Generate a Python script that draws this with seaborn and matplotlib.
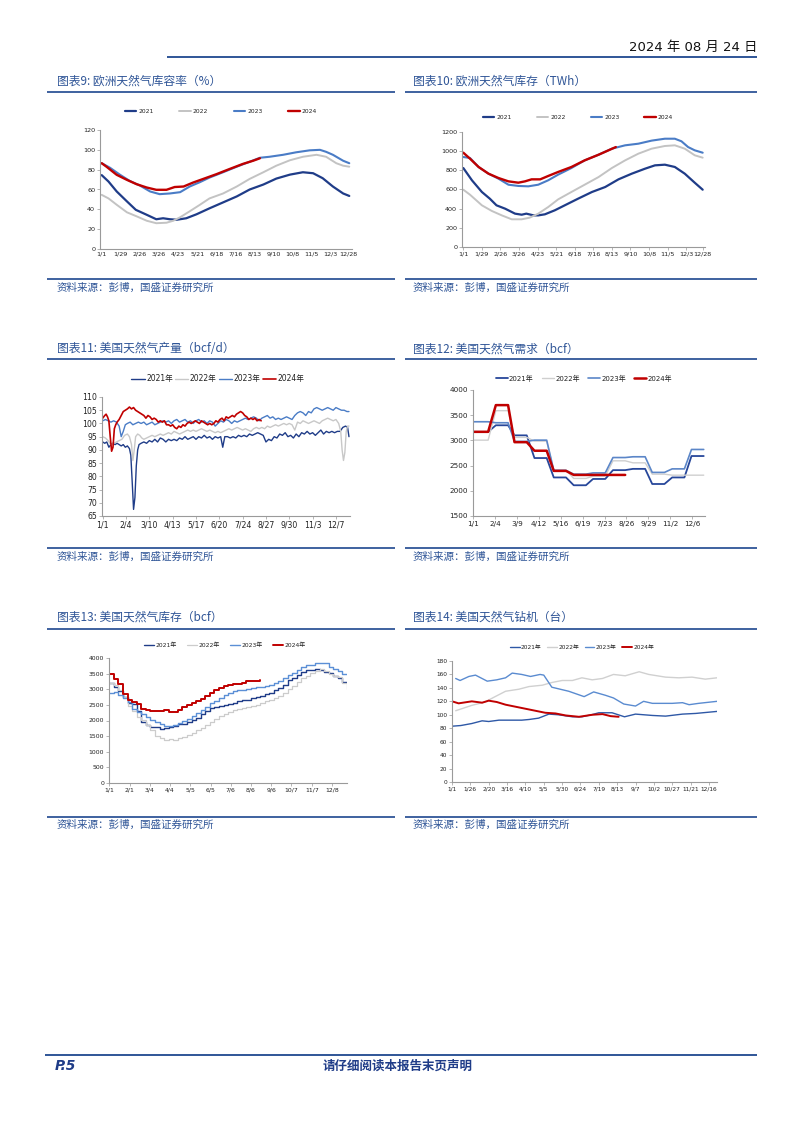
import pandas as pd
import matplotlib
matplotlib.use("Agg")
import matplotlib.pyplot as plt
from matplotlib.lines import Line2D
import seaborn as sns

# ---------------- text ----------------
YEARS = ["2021", "2022", "2023", "2024"]
YEARS_CN = ["2021年", "2022年", "2023年", "2024年"]
TITLES = ["图表9: 欧洲天然气库容率（%）", "图表10: 欧洲天然气库存（TWh）",
          "图表11: 美国天然气产量（bcf/d）", "图表12: 美国天然气需求（bcf）",
          "图表13: 美国天然气库存（bcf）", "图表14: 美国天然气钻机（台）"]
SOURCE = "资料来源：彭博，国盛证券研究所"
DATE_TEXT = "2024 年 08 月 24 日"
PAGE = "P.5"
FOOTER = "请仔细阅读本报告末页声明"

# ---------------- chart 9: EU storage fill (%) ----------------
EUP_XLAB = ["1/1", "1/29", "2/26", "3/26", "4/23", "5/21", "6/18", "7/16", "8/13",
            "9/10", "10/8", "11/5", "12/3", "12/28"]
EUP_YT = [0, 20, 40, 60, 80, 100, 120]
EUP21_D = [0, 10, 22, 37, 50, 66, 80, 90, 100, 110, 124, 139, 158, 178, 198, 217, 237, 256, 276, 295, 310, 324, 339, 354, 363]
EUP21_V = [74.5, 68, 58, 48, 39.5, 34.5, 30, 31, 30, 29.5, 31, 35, 41, 47, 53, 60, 65, 71, 75, 77.4, 76.4, 71.4, 63, 56, 53.5]
EUP22_D = [0, 10, 22, 37, 51, 66, 80, 95, 105, 115, 129, 144, 158, 178, 198, 217, 237, 256, 276, 295, 315, 329, 344, 354, 363]
EUP22_V = [54.6, 51, 44.6, 37, 33, 28.5, 26, 26.5, 28.5, 32, 38, 44.6, 51, 56, 63, 70.7, 77.4, 84, 89.5, 93, 95, 93, 86.5, 84, 83]
EUP23_D = [0, 12, 27, 41, 56, 71, 85, 100, 115, 129, 144, 158, 178, 198, 217, 232, 246, 266, 285, 305, 320, 329, 339, 354, 363]
EUP23_V = [86.5, 82, 74.8, 68.7, 64, 58, 55.3, 56, 57.3, 63, 67.4, 72, 77.4, 83, 88, 92, 93, 95, 97.5, 99.5, 100, 98, 95, 89, 86.5]
EUP24_D = [0, 7, 22, 37, 51, 66, 80, 95, 107, 120, 134, 149, 168, 188, 207, 222, 232]
EUP24_V = [86.5, 83, 74.8, 69.7, 65.4, 62, 59.7, 59.7, 62.5, 63, 67, 70.7, 75.4, 80.8, 85.8, 89, 91.5]

# ---------------- chart 10: EU storage (TWh) ----------------
EUT_YT = [0, 200, 400, 600, 800, 1000, 1200]
EUT21_D = [0, 13, 28, 40, 50, 63, 78, 88, 95, 106, 113, 123, 138, 153, 173, 194, 214, 234, 254, 274, 289, 304, 319, 334, 349, 361]
EUT21_V = [824, 696, 574, 504, 435, 400, 348, 337, 348, 330, 330, 341, 383, 435, 504, 574, 626, 706, 765, 817, 852, 859, 835, 765, 671, 598]
EUT22_D = [0, 10, 28, 43, 58, 73, 88, 100, 113, 128, 143, 163, 183, 204, 224, 244, 264, 284, 304, 319, 334, 349, 361]
EUT22_V = [598, 546, 435, 376, 330, 289, 289, 306, 348, 417, 497, 574, 650, 730, 824, 904, 974, 1026, 1054, 1061, 1026, 957, 932]
EUT23_D = [0, 10, 23, 38, 53, 68, 83, 98, 113, 128, 143, 163, 183, 204, 224, 244, 264, 284, 304, 319, 329, 339, 349, 361]
EUT23_V = [939, 929, 835, 765, 713, 650, 637, 633, 650, 696, 755, 824, 904, 963, 1026, 1061, 1078, 1110, 1130, 1130, 1103, 1043, 1009, 984]
EUT24_D = [0, 10, 23, 38, 53, 68, 83, 93, 103, 116, 128, 143, 163, 183, 204, 219, 230]
EUT24_V = [984, 922, 835, 765, 720, 685, 671, 685, 706, 706, 741, 783, 835, 904, 963, 1009, 1043]

# ---------------- chart 11: US production (bcf/d) ----------------
PRD_XLAB = ["1/1", "2/4", "3/10", "4/13", "5/17", "6/20", "7/24", "8/27", "9/30", "11/3", "12/7"]
PRD_YT = [65, 70, 75, 80, 85, 90, 95, 100, 105, 110]
PRD21_D = [0, 3, 6, 9, 12, 15, 18, 21, 24, 27, 30, 33, 36, 39, 41, 43, 45, 47, 49, 51, 53, 56, 60, 64, 68, 72, 76, 80,
           84, 88, 92, 96, 100, 104, 108, 112, 116, 120, 124, 128, 132, 136, 140, 144, 148, 152, 156, 160, 164, 168,
           172, 175, 178, 182, 186, 190, 194, 198, 202, 206, 210, 214, 218, 222, 226, 230, 234, 238, 242, 246, 250,
           254, 258, 262, 266, 270, 274, 278, 282, 286, 290, 294, 298, 302, 306, 310, 314, 318, 322, 326, 330, 334,
           338, 342, 346, 350, 354, 357, 359]
PRD21_V = [93, 92.5, 93, 91, 92, 92.5, 92, 92.5, 92, 91.5, 92, 91, 91.5, 90.5, 88, 78, 67.5, 72, 84, 90, 92, 92.5, 93,
           92.5, 93.5, 93, 94, 93, 94.5, 94, 93, 94, 93.5, 94, 93.5, 94.5, 94, 95, 94, 94.5, 95, 94, 95, 94.5, 95.5,
           94.5, 95, 94, 95, 94.5, 95, 91, 95, 95, 94.5, 95, 94.5, 95.5, 95, 95.5, 95, 96, 95.5, 96, 96.5, 96, 95.5,
           93, 94, 93.5, 95, 94.5, 96, 95.5, 96.5, 95, 95.5, 94.5, 96, 95, 96.5, 96, 97, 96, 96.5, 95.5, 96.5, 97.5,
           96, 97, 96.5, 97, 96.5, 97, 97, 98.5, 99, 98.5, 95]
PRD22_D = [0, 4, 8, 12, 16, 20, 24, 28, 32, 36, 39, 42, 44, 46, 48, 51, 54, 57, 60, 64, 68, 72, 76, 80, 84, 88, 92,
           96, 100, 104, 108, 112, 116, 120, 124, 128, 132, 136, 140, 144, 148, 152, 156, 160, 164, 168, 172, 176,
           180, 184, 188, 192, 196, 200, 204, 208, 212, 216, 220, 224, 228, 232, 236, 240, 244, 248, 252, 256, 260,
           264, 268, 272, 276, 280, 284, 288, 292, 296, 300, 304, 308, 312, 316, 320, 324, 328, 332, 336, 340, 344,
           347, 349, 351, 353, 355, 357, 359]
PRD22_V = [95, 94.5, 93.5, 92, 92.5, 93, 93.5, 94, 95.5, 96, 95, 92, 86, 90, 95, 96, 95.5, 94.5, 94, 94.5, 95, 95.5,
           95, 95.5, 96, 95.5, 96, 96.5, 96, 97, 96.5, 96, 96.5, 97, 97.5, 97, 97.5, 97, 97.5, 98, 97.5, 97, 97.5, 97,
           96.5, 97, 96.5, 97, 97.5, 98, 97.5, 98, 98.5, 98, 97.5, 98, 97.5, 97, 98, 98.5, 98, 98.5, 98, 99, 98.5, 99,
           99.5, 99, 99.5, 100, 99.5, 100, 99.5, 97.5, 100.5, 100, 101, 100.5, 100, 100.5, 101, 100.5, 100, 101,
           101.5, 102, 101.5, 101, 101.5, 100, 97, 90, 86, 89, 97, 99, 99]
PRD23_D = [0, 4, 8, 12, 16, 20, 24, 27, 30, 33, 36, 40, 44, 48, 52, 56, 60, 64, 68, 72, 76, 80, 84, 88, 92, 96, 100,
           104, 108, 112, 116, 120, 124, 128, 132, 136, 140, 144, 148, 152, 156, 160, 164, 168, 172, 176, 180, 184,
           188, 192, 196, 200, 204, 208, 212, 216, 220, 224, 228, 232, 236, 240, 244, 248, 252, 256, 260, 264, 268,
           272, 276, 280, 284, 288, 292, 296, 300, 304, 308, 312, 316, 320, 324, 328, 332, 336, 340, 344, 348, 352,
           356, 359]
PRD23_V = [101, 101.5, 101, 100.5, 101, 100.5, 99, 95, 97, 99.5, 100, 100.5, 99.5, 100, 100.5, 100, 100.5, 99.5,
           100, 100.5, 99.5, 100, 100.5, 101, 100.5, 101, 100, 101, 101.5, 100.5, 101, 101.5, 100.5, 101, 100, 101,
           101.5, 100.5, 101, 100, 101, 100.5, 99, 100, 101, 100.5, 101.5, 101, 100, 101, 100.5, 101, 101.5, 102,
           101.5, 102, 102.5, 102, 101, 102, 102.5, 103, 102, 102.5, 101.5, 102, 101.5, 102, 102.5, 102, 101.5, 103,
           104, 104.5, 104, 103, 104.5, 104, 105.5, 106, 105.5, 105, 105.5, 106, 105.5, 105, 106, 105.5, 105, 105,
           104.5, 104.5]
PRD24_D = [0, 3, 5, 7, 9, 11, 13, 15, 17, 19, 21, 24, 27, 30, 33, 36, 39, 42, 45, 48, 51, 54, 57, 60, 63, 66, 69,
           72, 75, 78, 81, 84, 87, 90, 93, 96, 99, 102, 105, 108, 111, 114, 117, 120, 123, 126, 129, 132, 135, 138,
           141, 144, 147, 150, 153, 156, 159, 162, 165, 168, 171, 174, 177, 180, 183, 186, 189, 192, 195, 198, 201,
           204, 207, 210, 213, 216, 219, 222, 225, 228, 231]
PRD24_V = [102, 103, 103.5, 102.5, 101, 95, 89.5, 91, 98, 99.5, 100.5, 101.5, 103, 104.5, 105, 105.5, 106.2, 105.5,
           106, 105, 104.5, 104, 103.5, 103, 102, 103, 102.5, 101.5, 102, 101.5, 100.5, 101, 100.5, 101, 99.5, 99.5,
           99, 99.5, 98.5, 98, 99, 98.5, 99.5, 99, 100, 100.5, 100, 100.5, 101, 100.5, 100, 101, 100.5, 100, 99.5,
           100, 99.5, 100, 101, 100.5, 101.5, 102, 101, 102.5, 102, 102.5, 103, 102.5, 103.5, 104, 104.5, 104, 103,
           102.5, 101.5, 102, 101.5, 102, 101, 101.5, 101]

# ---------------- chart 12: US demand (bcf), monthly ----------------
DEM_XLAB = ["1/1", "2/4", "3/9", "4/12", "5/16", "6/19", "7/23", "8/26", "9/29", "11/2", "12/6"]
DEM_YT = [1500, 2000, 2500, 3000, 3500, 4000]
MONTHS = ["1/1", "2/1", "3/1", "4/1", "5/1", "6/1", "7/1", "8/1", "9/1", "10/1", "11/1", "12/1"]
DEM21 = [3170, 3300, 3100, 2650, 2265, 2110, 2235, 2410, 2435, 2135, 2265, 2690]
DEM22 = [3005, 3590, 3060, 2985, 2410, 2245, 2290, 2595, 2555, 2330, 2310, 2310]
DEM23 = [3370, 3350, 2980, 3005, 2405, 2330, 2355, 2660, 2675, 2365, 2435, 2820]
DEM24 = [3170, 3700, 2965, 2795, 2395, 2315, 2315, 2315]

# ---------------- chart 13: US storage (bcf), weekly ----------------
STO_XLAB = ["1/1", "2/1", "3/4", "4/4", "5/5", "6/5", "7/6", "8/6", "9/6", "10/7", "11/7", "12/8"]
STO_YT = [0, 500, 1000, 1500, 2000, 2500, 3000, 3500, 4000]
STO21 = [3196, 3062, 2934, 2747, 2562, 2543, 2305, 1967, 1869, 1793, 1782, 1744, 1758, 1778, 1839, 1877, 1893, 1953,
         2024, 2096, 2215, 2313, 2411, 2427, 2468, 2501, 2517, 2572, 2618, 2654, 2667, 2714, 2760, 2789, 2841, 2893,
         2976, 3052, 3142, 3288, 3369, 3461, 3548, 3611, 3618, 3644, 3622, 3563, 3505, 3417, 3360, 3224, 3193]
STO22 = [3197, 3130, 2970, 2760, 2450, 2290, 2110, 2010, 1860, 1700, 1520, 1440, 1390, 1400, 1380, 1430, 1470, 1530,
         1600, 1690, 1770, 1860, 1960, 2050, 2140, 2210, 2270, 2330, 2370, 2400, 2430, 2470, 2510, 2560, 2610, 2660,
         2720, 2800, 2890, 3000, 3120, 3240, 3350, 3420, 3510, 3580, 3640, 3580, 3500, 3440, 3380, 3200, 3000]
STO23 = [2891, 2902, 2820, 2729, 2583, 2366, 2266, 2195, 2114, 2030, 1946, 1874, 1827, 1830, 1855, 1930, 1983, 2037,
         2141, 2240, 2336, 2446, 2550, 2634, 2729, 2805, 2877, 2930, 2971, 2987, 3003, 3032, 3065, 3083, 3115, 3148,
         3205, 3269, 3359, 3449, 3533, 3626, 3700, 3779, 3779, 3833, 3826, 3836, 3719, 3664, 3577, 3490, 3476]
STO24 = [3476, 3336, 3182, 2856, 2659, 2584, 2535, 2374, 2334, 2294, 2300, 2296, 2332, 2259, 2283, 2333, 2425, 2484,
         2563, 2629, 2700, 2795, 2893, 2967, 3041, 3097, 3129, 3161, 3171, 3209, 3249, 3270, 3270, 3294]

# ---------------- chart 14: US gas rigs ----------------
RIG_XLAB = ["1/1", "1/26", "2/20", "3/16", "4/10", "5/5", "5/30", "6/24", "7/19", "8/13", "9/7", "10/2",
            "10/27", "11/21", "12/16"]
RIG_YT = [0, 20, 40, 60, 80, 100, 120, 140, 160, 180]
RIG21_D = [0, 12, 27, 41, 50, 64, 80, 95, 105, 118, 132, 145, 164, 177, 190, 200, 218, 235, 250, 273, 291, 314, 332, 361]
RIG21_V = [83, 84, 87, 91, 90, 92, 92, 92, 93, 95, 101, 100, 97, 97, 100, 103, 103, 97, 101, 99, 98, 101, 102, 105]
RIG22_D = [5, 27, 45, 57, 73, 91, 105, 123, 136, 150, 164, 177, 191, 205, 220, 236, 255, 268, 291, 309, 327, 345, 361]
RIG22_V = [106, 114, 119, 126, 135, 138, 142, 144, 148, 151, 151, 155, 152, 154, 160, 158, 164, 160, 156, 155, 156, 153, 155]
RIG23_D = [5, 11, 23, 32, 48, 61, 73, 82, 95, 107, 120, 125, 136, 159, 180, 193, 209, 220, 234, 250, 261, 273, 300,
           314, 323, 336, 361]
RIG23_V = [154, 151, 157, 159, 150, 152, 155, 162, 160, 157, 160, 159, 141, 135, 127, 134, 129, 125, 116, 113, 120,
           117, 117, 118, 115, 117, 120]
RIG24_D = [0, 9, 27, 41, 50, 61, 73, 91, 109, 127, 141, 155, 173, 191, 205, 216, 227]
RIG24_V = [120, 117, 120, 118, 121, 119, 115, 111, 107, 103, 102, 99, 97, 100, 101, 98, 97]

# ---------------- style ----------------
W, H = 802, 1133
sns.set_theme(style="white")
plt.rcParams["font.family"] = ["DejaVu Sans", "Noto Sans CJK SC"]
plt.rcParams["axes.unicode_minus"] = False

TXT_BLUE = "#2f5597"
RULE = "#2f5597"
NAVY = "#1f3c88"
RED = "#c00000"
CJK = ["Noto Sans CJK SC", "DejaVu Sans"]

fig = plt.figure(figsize=(W / 100, H / 100), dpi=100)
fig.patch.set_facecolor("white")


def fx(x):
    return x / W


def fy(y):
    return 1 - y / H


def hline(x0, x1, y, lw=1.3, color=RULE):
    fig.add_artist(Line2D([fx(x0), fx(x1)], [fy(y), fy(y)], transform=fig.transFigure,
                          color=color, lw=lw, solid_capstyle="butt"))


def axes_px(x0, y0, x1, y1):
    return fig.add_axes([fx(x0), fy(y1), (x1 - x0) / W, (y1 - y0) / H])


def doy(label, year):
    m, d = label.split("/")
    return pd.Timestamp(year=year, month=int(m), day=int(d)).dayofyear - 1


def setup(ax, xlim, ylim, yticks, xlabels, year, fs):
    ax.set_xlim(*xlim)
    ax.set_ylim(*ylim)
    ax.set_yticks(yticks)
    ax.set_yticklabels([str(v) for v in yticks])
    ax.set_xticks([doy(l, year) for l in xlabels])
    ax.set_xticklabels(xlabels)
    ax.tick_params(axis="both", labelsize=fs, length=2, width=0.5, pad=1.5,
                   color="#999999", labelcolor="#222222", left=True, bottom=True, direction="out")
    for s in ["top", "right"]:
        ax.spines[s].set_visible(False)
    for s in ["left", "bottom"]:
        ax.spines[s].set_color("#9a9a9a")
        ax.spines[s].set_linewidth(0.8)
    ax.set_xlabel("")
    ax.set_ylabel("")
    ax.set_facecolor("white")


def legend(ax, cx, cy, fs, hl, hp, cs):
    ax.legend(loc="center", bbox_to_anchor=(fx(cx), fy(cy)), bbox_transform=fig.transFigure, ncol=4,
              frameon=False, fontsize=fs, handlelength=hl, handletextpad=hp, columnspacing=cs,
              borderpad=0, borderaxespad=0, labelcolor="#222222")


def line(ax, x, y, color, lw, label, **kw):
    sns.lineplot(x=x, y=y, ax=ax, color=color, linewidth=lw, label=label, sort=False, estimator=None, **kw)


# ---------------- page decorations ----------------
fig.text(fx(757), fy(47), DATE_TEXT, ha="right", va="center", fontsize=9.5, color="#111111")
hline(167, 757, 57, lw=1.4)
for row_title_y, row_line_y, row_src_line, row_src_y, t_left, t_right in [
        (81, 92, 279, 288, TITLES[0], TITLES[1]),
        (349, 359, 548, 557, TITLES[2], TITLES[3]),
        (617, 629, 817, 825, TITLES[4], TITLES[5])]:
    for tx, tt in [(57, t_left), (413, t_right)]:
        fig.text(fx(tx), fy(row_title_y), tt, ha="left", va="center", fontsize=8.5, color=TXT_BLUE, family=CJK)
        fig.text(fx(tx), fy(row_src_y), SOURCE, ha="left", va="center", fontsize=7.6, color=TXT_BLUE, family=CJK)
    hline(47, 395, row_line_y)
    hline(405, 757, row_line_y)
    hline(47, 395, row_src_line)
    hline(405, 757, row_src_line)

hline(45, 757, 1055, lw=1.4)
fig.text(fx(55), fy(1066), PAGE, ha="left", va="center", fontsize=10, color=NAVY, fontweight="bold",
         style="italic")
fig.text(fx(398), fy(1066), FOOTER, ha="center", va="center", fontsize=9, color=NAVY, fontweight="bold",
         family=CJK)

# ---------------- chart 9 ----------------
C_EU = [NAVY, "#c3c3c3", "#4a7cc6", RED]
ax9 = axes_px(100, 130, 352, 249)
for d, v, c, lab, lw in zip([EUP21_D, EUP22_D, EUP23_D, EUP24_D], [EUP21_V, EUP22_V, EUP23_V, EUP24_V],
                            C_EU, YEARS, [1.6, 1.4, 1.5, 1.7]):
    line(ax9, d, v, c, lw, lab)
setup(ax9, (-2.5, 367), (0, 120), EUP_YT, EUP_XLAB, 2021, 4.6)
ax9.tick_params(axis="x", length=0)
legend(ax9, 221, 111, 4.3, 1.9, 0.35, 4.3)

# ---------------- chart 10 ----------------
ax10 = axes_px(462, 132, 705, 247)
for d, v, c, lab, lw in zip([EUT21_D, EUT22_D, EUT23_D, EUT24_D], [EUT21_V, EUT22_V, EUT23_V, EUT24_V],
                            C_EU, YEARS, [1.6, 1.4, 1.5, 1.7]):
    line(ax10, d, v, c, lw, lab)
setup(ax10, (-2, 364.5), (0, 1200), EUT_YT, EUP_XLAB, 2021, 4.6)
legend(ax10, 578, 117, 4.3, 1.9, 0.35, 4.2)

# ---------------- chart 11 ----------------
C_PRD = [NAVY, "#c8c8c8", "#4a7cc6", RED]
ax11 = axes_px(102, 397, 350, 516)
for d, v, c, lab, lw in zip([PRD21_D, PRD22_D, PRD23_D, PRD24_D], [PRD21_V, PRD22_V, PRD23_V, PRD24_V],
                            C_PRD, YEARS_CN, [1.0, 1.0, 1.0, 1.2]):
    line(ax11, d, v, c, lw, lab)
setup(ax11, (-1, 360.5), (65, 110), PRD_YT, PRD_XLAB, 2021, 5.6)
legend(ax11, 218, 379, 5.5, 1.75, 0.2, 0.3)

# ---------------- chart 12 ----------------
C_DEM = ["#27479a", "#cfcfcf", "#5b86c8", RED]
ax12 = axes_px(473, 390, 705, 516)
for vals, c, lab, lw in zip([DEM21, DEM22, DEM23, DEM24], C_DEM, YEARS_CN, [1.3, 1.0, 1.2, 1.8]):
    xs, ys = [], []
    for m, v in zip(MONTHS, vals):
        start = doy(m, 2024)
        xs += [start + (0 if start == 0 else 4), start + 23]
        ys += [v, v]
    line(ax12, xs, ys, c, lw, lab)
setup(ax12, (-0.5, 360), (1500, 4000), DEM_YT, DEM_XLAB, 2024, 5.2)
legend(ax12, 584, 378, 5.0, 1.7, 0.2, 1.2)

# ---------------- chart 13 ----------------
C_STO = [NAVY, "#cccccc", "#5b8fd6", RED]
ax13 = axes_px(109, 658, 347, 783)
for vals, c, lab, lw in zip([STO21, STO22, STO23, STO24], C_STO, YEARS_CN, [1.0, 0.9, 1.0, 1.4]):
    line(ax13, [7 * i for i in range(len(vals))], vals, c, lw, lab, drawstyle="steps-post")
setup(ax13, (-0.5, 364), (0, 4000), STO_YT, STO_XLAB, 2021, 4.4)
legend(ax13, 225, 645, 4.3, 1.7, 0.25, 1.7)

# ---------------- chart 14 ----------------
C_RIG = ["#2e58a6", "#d0d0d0", "#5a8bd0", RED]
ax14 = axes_px(452, 661, 717, 782)
for d, v, c, lab, lw in zip([RIG21_D, RIG22_D, RIG23_D, RIG24_D], [RIG21_V, RIG22_V, RIG23_V, RIG24_V],
                            C_RIG, YEARS_CN, [1.0, 1.0, 1.0, 1.4]):
    line(ax14, d, v, c, lw, lab)
setup(ax14, (0, 361), (0, 180), RIG_YT, RIG_XLAB, 2024, 4.2)
legend(ax14, 582, 647, 4.2, 1.7, 0.25, 0.9)

fig.savefig("out.png", dpi=100, facecolor="white")
